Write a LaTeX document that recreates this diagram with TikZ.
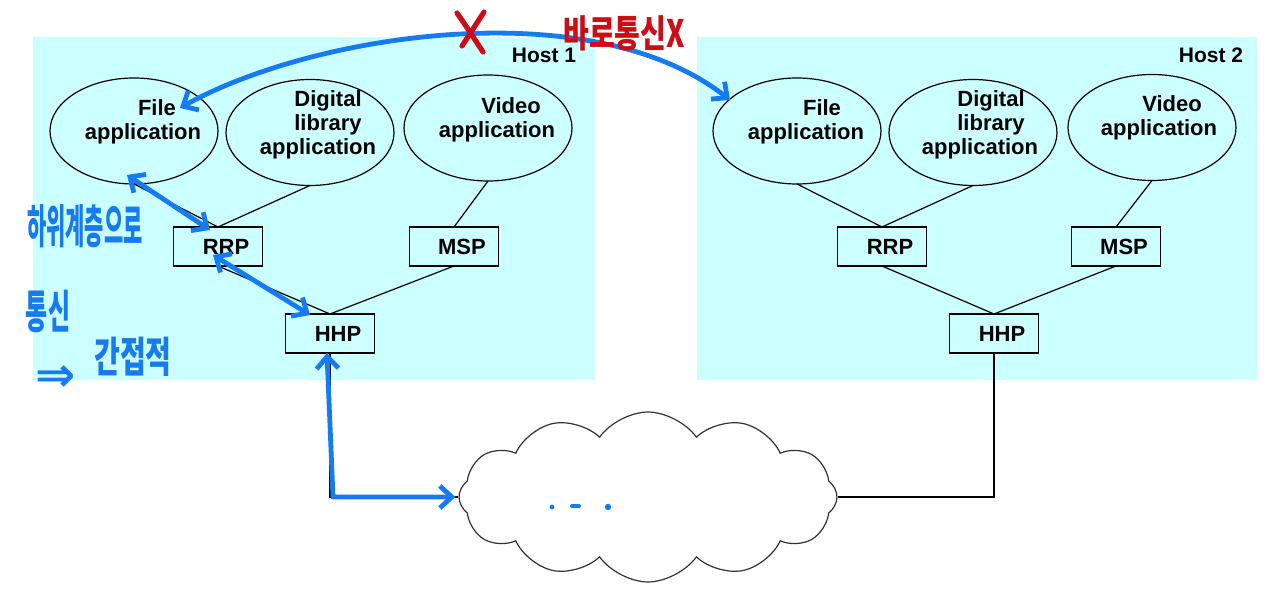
\documentclass[tikz,border=0pt]{standalone}
\usepackage{graphicx}
\usepackage{fontspec}
\setmainfont{Liberation Sans}
\newfontfamily\kor{Noto Sans CJK KR}
\newfontfamily\symfont{DejaVu Sans}
\definecolor{hostcyan}{RGB}{204,255,255}
\definecolor{penblue}{RGB}{22,122,240}
\definecolor{penred}{RGB}{205,12,22}
\usetikzlibrary{arrows.meta,shapes.geometric,shapes.symbols,calc}

\begin{document}
\begin{tikzpicture}[x=0.5pt,y=-0.5pt,
  app/.style={draw,ellipse,line width=0.6pt,minimum width=84pt,minimum height=53pt,
              inner sep=0pt,outer sep=0pt},
  apptext/.style={font=\fontsize{11}{12}\selectfont\bfseries,align=center,inner sep=0pt},
  proto/.style={draw,line width=0.7pt,minimum width=44.5pt,minimum height=19.5pt,
                inner sep=0pt,outer sep=0pt,font=\fontsize{11}{12}\selectfont\bfseries,
                execute at begin node={\hspace*{8pt}}},
  hostlbl/.style={font=\fontsize{10.5}{12}\selectfont\bfseries,inner sep=0pt},
  link/.style={line width=0.6pt},
  hand/.style={penblue,line width=2.4pt,line cap=round,line join=round,
               >={Straight Barb[length=6pt,width=11pt]}},
  pennote/.style={text=penblue,inner sep=0pt}]
  \useasboundingbox (0,0) rectangle (1280,593);

  %% host areas
  \fill[hostcyan] (33,37) rectangle (595,380);
  \fill[hostcyan] (697,37) rectangle (1257,380);
  \node[hostlbl] (host1) at (544,55) {Host 1};
  \node[hostlbl] (host2) at (1211,55) {Host 2};

  %% Host 1 applications
  \node[app] (file1) at (134,131) {};
  \node[app] (dig1) at (310,132.5) {};
  \node[app] (vid1) at (488,128) {};
  \node[apptext] (file1t) at (143,122) {\hspace*{14pt}File\\application};
  \node[apptext] (dig1t) at (318,125) {\hspace*{10pt}Digital\\\hspace*{10pt}library\\application};
  \node[apptext] (vid1t) at (497,120) {\hspace*{14pt}Video\\application};

  %% Host 1 protocols
  \node[proto] (rrp1) at (218,246.5) {RRP};
  \node[proto] (msp1) at (454,246.5) {MSP};
  \node[proto] (hhp1) at (330,333.5) {HHP};

  %% Host 2 applications
  \node[app] (file2) at (797,131) {};
  \node[app] (dig2) at (973,132.5) {};
  \node[app] (vid2) at (1152,127.5) {};
  \node[apptext] (file2t) at (806,122) {\hspace*{16pt}File\\application};
  \node[apptext] (dig2t) at (980,125) {\hspace*{11pt}Digital\\\hspace*{11pt}library\\application};
  \node[apptext] (vid2t) at (1159,118) {\hspace*{13pt}Video\\application};

  %% Host 2 protocols
  \node[proto] (rrp2) at (882,246.5) {RRP};
  \node[proto] (msp2) at (1116,246.5) {MSP};
  \node[proto] (hhp2) at (994,333.5) {HHP};

  %% network
  \node[cloud,draw=black!80,fill=white,line width=0.6pt,cloud puffs=12,cloud puff arc=110,
        cloud ignores aspect,minimum width=189pt,minimum height=85pt,inner sep=0pt]
        (net) at (648,497) {};

  %% links
  \draw[link] (file1.south) -- (rrp1.north);
  \draw[link] (dig1.south) -- (rrp1.north);
  \draw[link] (vid1.south) -- (msp1.north);
  \draw[link] (rrp1.south) -- (hhp1.north);
  \draw[link] (msp1.south) -- (hhp1.north);
  \draw[link] (file2.south) -- (rrp2.north);
  \draw[link] (dig2.south) -- (rrp2.north);
  \draw[link] (vid2.south) -- (msp2.north);
  \draw[link] (rrp2.south) -- (hhp2.north);
  \draw[link] (msp2.south) -- (hhp2.north);
  \draw[link] (hhp1.south) |- (net.west);
  \draw[link] (hhp2.south) |- (net.east);

  %% pen notes (blue)
  \draw[hand,<->] ([shift={(46,-23)}]file1.center) .. controls (310,35) and (590,-10)
        .. ([shift={(-67,-31)}]file2.center);
  \draw[hand,<->] ([shift={(-7,-9)}]file1.south) -- ([shift={(-8,3)}]rrp1.north);
  \draw[hand,<->] ([shift={(-5,-11)}]rrp1.south) -- ([shift={(-20,1)}]hhp1.north);
  \draw[hand,<->] ([xshift=-1.5pt]hhp1.south) -- ($(hhp1.south |- net.west)+(3,0)$)
        -- ([xshift=-1.5pt]net.west);
  \fill[penblue] (552,507) circle[radius=1.2pt];
  \draw[penblue,line width=2pt,line cap=round] (572,506) -- (579,506);
  \fill[penblue] (608,507) circle[radius=1.6pt];
  \node[pennote] (lower) at (85,226)
        {\kor\bfseries\fontsize{11}{12}\selectfont\scalebox{0.95}[2.1]{하위계층으로}};
  \node[pennote] (comm) at (48,311)
        {\kor\bfseries\fontsize{12}{13}\selectfont\scalebox{1}[1.9]{통신}};
  \node[pennote] (imply) at (56,379) {\symfont\bfseries\fontsize{24}{24}\selectfont ⇒};
  \node[pennote] (indirect) at (133,357)
        {\kor\bfseries\fontsize{14}{15}\selectfont\scalebox{1}[1.5]{간접적}};

  %% pen notes (red)
  \draw[penred,line width=2.6pt,line cap=round] (457,13) .. controls (466,26) .. (483,52);
  \draw[penred,line width=2.6pt,line cap=round] (484,12) -- (462,46);
  \node[text=penred,inner sep=0pt] (direct) at (624,33)
        {\kor\bfseries\fontsize{14}{15}\selectfont\scalebox{1}[1.35]{바로통신X}};
\end{tikzpicture}
\end{document}
